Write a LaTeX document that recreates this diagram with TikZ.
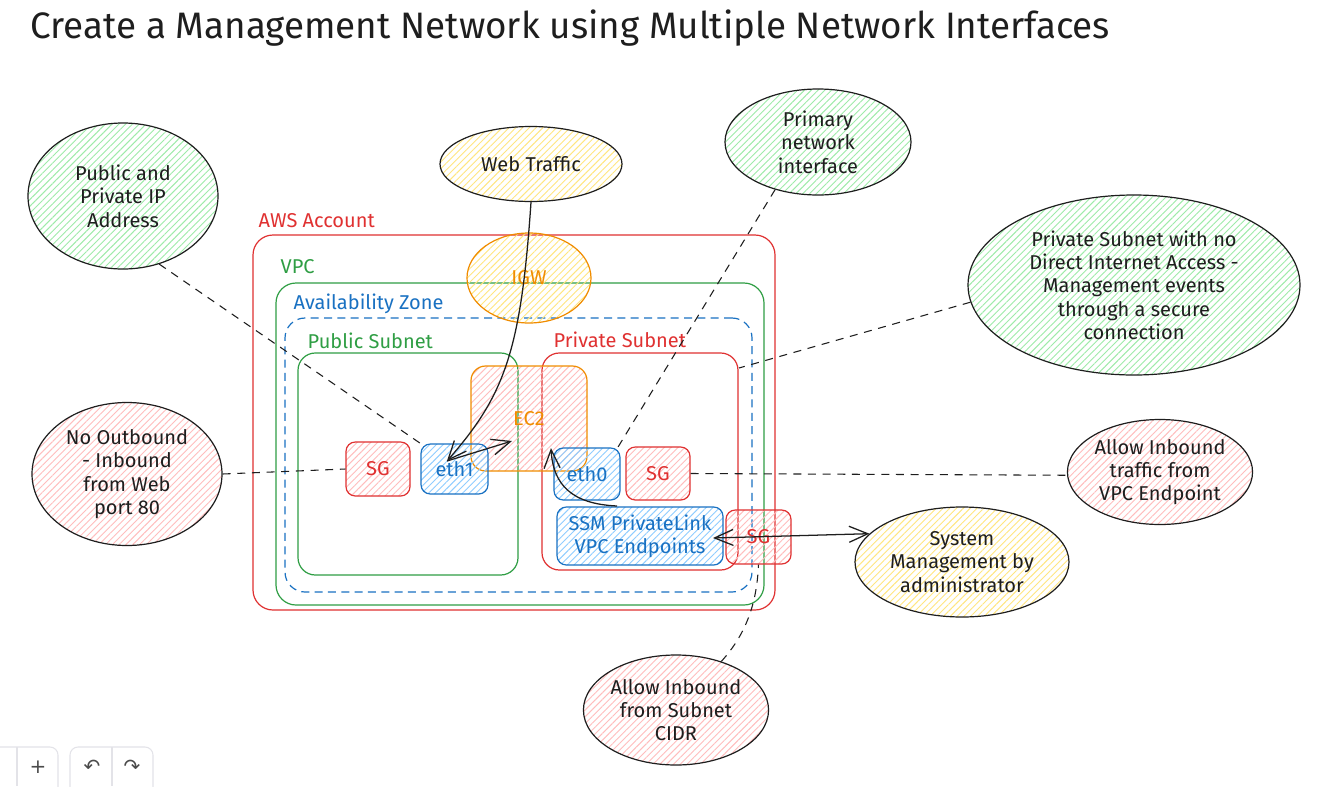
\documentclass[tikz,border=0pt]{standalone}
\usepackage{fontspec}
\setmainfont{Fira Sans}
\newfontfamily\symfont{DejaVu Sans}
\usetikzlibrary{arrows.meta,shapes.geometric,patterns.meta}
\definecolor{cred}{HTML}{E03131}
\definecolor{cgreen}{HTML}{2F9E44}
\definecolor{cblue}{HTML}{1971C2}
\definecolor{corange}{HTML}{F08C00}
\definecolor{fgreen}{HTML}{9EEBA9}
\definecolor{fpink}{HTML}{FFBDBD}
\definecolor{fyellow}{HTML}{FFE680}
\definecolor{fblue}{HTML}{8FCDFF}
\definecolor{ink}{HTML}{1E1E1E}
\definecolor{tbar}{HTML}{E3E3E8}
\newcommand\pxu{0.75pt}
\begin{document}
\begin{tikzpicture}[x=0.75pt,y=-0.75pt,
  lbl/.style={font=\fontsize{15}{17.5}\selectfont},
  hatch/.style={pattern={Lines[angle=45,distance=3.6pt,line width=0.7pt]},pattern color=#1},
  ell/.style={ellipse,draw=ink,line width=0.9pt,align=center,inner sep=0pt,text=ink,lbl},
  cont/.style={draw=#1,line width=0.9pt,rounded corners=15pt,inner sep=0pt},
  bx/.style={draw=#1,line width=0.9pt,rounded corners=7pt,inner sep=0pt,align=center,text=#1,lbl},
  clabel/.style={anchor=west,text=#1,lbl},
  arr/.style={draw=ink,line width=0.95pt,-{Straight Barb[length=14pt,width=12pt]}},
  darr/.style={draw=ink,line width=0.95pt,{Straight Barb[length=14pt,width=12pt]}-{Straight Barb[length=14pt,width=12pt]}},
  dline/.style={draw=ink,line width=0.8pt,dash pattern=on 6pt off 5pt},
  toolb/.style={draw=tbar,line width=0.8pt}
]
\clip (0,0) rectangle (1321,786);
\fill[white] (0,0) rectangle (1321,786);

% title
\node[anchor=west,text=ink,font=\fontsize{27.6}{32}\selectfont] (title) at (26,28) {Create a Management Network using Multiple Network Interfaces};

% containers
\node[cont=cred,minimum width=522*\pxu,minimum height=375*\pxu] (aws) at (514,422.5) {};
\node[cont=cgreen,minimum width=488*\pxu,minimum height=322*\pxu] (vpc) at (520,444) {};
\node[cont=cblue,dash pattern=on 6pt off 4pt,minimum width=467*\pxu,minimum height=274*\pxu] (az) at (518.5,455) {};
\node[cont=cgreen,minimum width=220*\pxu,minimum height=222*\pxu,rounded corners=13pt] (pubsn) at (408,464) {};
\node[cont=cred,minimum width=196*\pxu,minimum height=217*\pxu,rounded corners=13pt] (privsn) at (640,461.5) {};

\node[clabel=cred] (awsl) at (254,221) {AWS Account};
\node[clabel=cgreen] (vpcl) at (276,267) {VPC};
\node[clabel=cblue] (azl) at (289,304) {Availability Zone};
\node[clabel=cgreen] (publ) at (303,341) {Public Subnet};
\node[clabel=cred] (privl) at (549,340) {Private Subnet};

% IGW and EC2
\node[ellipse,draw=corange,line width=0.9pt,hatch=fyellow,minimum width=124*\pxu,minimum height=90*\pxu,inner sep=0pt,text=corange,lbl] (igw) at (529,278) {IGW};
\node[bx=corange,hatch=fpink,minimum width=116*\pxu,minimum height=105*\pxu,rounded corners=11pt] (ec2) at (529,418.5) {EC2};

% small boxes
\node[bx=cred,hatch=fpink,minimum width=64*\pxu,minimum height=54*\pxu] (sg1) at (378,469) {SG};
\node[bx=cblue,hatch=fblue,minimum width=67*\pxu,minimum height=50*\pxu] (eth1) at (454.5,469) {eth1};
\node[bx=cblue,hatch=fblue,minimum width=66*\pxu,minimum height=52*\pxu] (eth0) at (587,474) {eth0};
\node[bx=cred,hatch=fpink,minimum width=64*\pxu,minimum height=53*\pxu] (sg2) at (658,473.5) {SG};
\node[bx=cblue,hatch=fblue,minimum width=166*\pxu,minimum height=58*\pxu] (ssm) at (640,536) {SSM PrivateLink\\VPC Endpoints};
\node[bx=cred,hatch=fpink,minimum width=65*\pxu,minimum height=54*\pxu] (sg3) at (758.5,537) {SG};

% note ellipses
\node[ell,hatch=fgreen,minimum width=190*\pxu,minimum height=146*\pxu] (pubip) at (123,196) {Public and\\Private IP\\Address};
\node[ell,hatch=fyellow,minimum width=182*\pxu,minimum height=75*\pxu] (web) at (531,164) {Web Traffic};
\node[ell,hatch=fgreen,minimum width=186*\pxu,minimum height=106*\pxu] (prim) at (818,142) {Primary\\network\\interface};
\node[ell,hatch=fgreen,minimum width=332*\pxu,minimum height=180*\pxu] (privnote) at (1134,285) {Private Subnet with no\\Direct Internet Access -\\Management events\\through a secure\\connection};
\node[ell,hatch=fpink,minimum width=190*\pxu,minimum height=143*\pxu] (noout) at (127,474) {No Outbound\\- Inbound\\from Web\\port 80};
\node[ell,hatch=fpink,minimum width=184*\pxu,minimum height=105*\pxu] (allowvpc) at (1160,472) {Allow Inbound\\traffic from\\VPC Endpoint};
\node[ell,hatch=fyellow,minimum width=214*\pxu,minimum height=110*\pxu] (sysm) at (962,562) {System\\Management by\\administrator};
\node[ell,hatch=fpink,minimum width=182*\pxu,minimum height=110*\pxu] (cidr) at (676,710) {Allow Inbound\\from Subnet\\CIDR};

% coordinates for free ends
\coordinate (eth1in) at (447,461);
\coordinate (ec2in) at (512,441);
\coordinate (eth0in) at (551,448);
\coordinate (ssmtop) at (617,506);
\coordinate (ssmR) at (713,538);
\coordinate (privR) at (739,368);
\coordinate (eth0ne) at (615,452);

% arrows
\draw[arr] (web.south) .. controls (521,350) and (505,395) .. (eth1in);
\draw[arr] (eth1in) -- (ec2in);
\draw[arr] (ssmtop) .. controls (572,504) and (553,485) .. (eth0in);
\draw[darr] (ssmR) -- (sysm.163);

% dashed
\draw[dline] (pubip.-62) -- (eth1.north west);
\draw[dline] (noout.east) -- (sg1.west);
\draw[dline] (prim.-132) -- (eth0ne);
\draw[dline] (privnote.186) -- (privR);
\draw[dline] (sg2.east) -- (allowvpc.182);
\draw[dline] (cidr.47) .. controls (748,632) and (757,600) .. (sg3.south);

% toolbar
\draw[toolb,rounded corners=6pt] (-10,747) rectangle (58,800);
\draw[toolb] (17,747) -- (17,786);
\node[text=ink!80,font=\symfont\fontsize{15}{17}\selectfont] (plus) at (38,767) {+};
\draw[toolb,rounded corners=6pt] (70,747) rectangle (153,800);
\draw[toolb] (112,747) -- (112,786);
\node[text=ink!80,font=\symfont\fontsize{15}{17}\selectfont] (undo) at (92,767) {↶};
\node[text=ink!80,font=\symfont\fontsize{15}{17}\selectfont] (redo) at (132,767) {↷};
\end{tikzpicture}
\end{document}
